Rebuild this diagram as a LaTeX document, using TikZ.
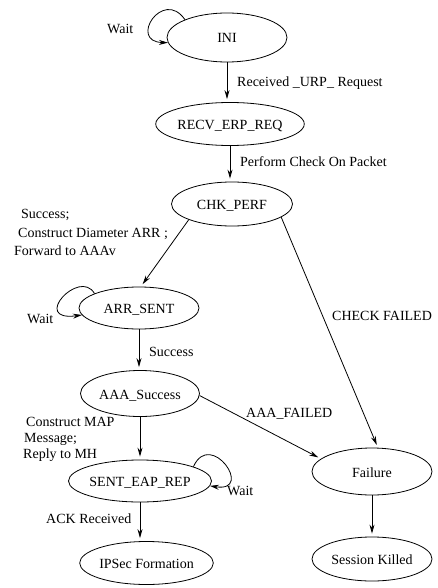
\documentclass[tikz,border=0pt]{standalone}
\usepackage{fontspec}
\setmainfont{Liberation Serif}
\usetikzlibrary{shapes.geometric, arrows.meta}

\begin{document}
\begin{tikzpicture}[x=1pt, y=-1pt,
  txt/.style={font=\fontsize{14}{16}\selectfont},
  state/.style={txt, draw, ellipse, line width=0.8pt, inner sep=0pt,
                text height=11pt, text depth=0pt},
  edge/.style={line width=0.8pt, -{Stealth[length=9pt, width=5pt, inset=3pt]}},
  straight/.style={edge, shorten >=3pt},
  lbl/.style={txt, inner sep=0pt, anchor=base west}]
\useasboundingbox (0,0) rectangle (437,588);

% states
\node[state, minimum width=120pt, minimum height=49pt] (ini)   at (227,37.5) {INI};
\node[state, minimum width=118pt, minimum height=43pt] (recv)  at (230,124)  {RECV\_ERP\_REQ};
\node[state, minimum width=121pt, minimum height=44pt] (chk)   at (232,204)  {CHK\_PERF};
\node[state, minimum width=120pt, minimum height=42pt] (arr)   at (139,308)  {ARR\_SENT};
\node[state, minimum width=119pt, minimum height=46pt] (aaa)   at (140,393.5){AAA\_Success};
\node[state, minimum width=120pt, minimum height=42pt] (sent)  at (140,481)  {SENT\_EAP\_REP};
\node[state, minimum width=121pt, minimum height=43pt] (ipsec) at (146.5,563){IPSec Formation};
\node[state, minimum width=120pt, minimum height=47pt] (fail)  at (372,471.5){Failure};
\node[state, minimum width=120pt, minimum height=44pt] (kill)  at (372,559)  {Session Killed};

% transitions
\draw[straight] (ini.south)  -- (ini.south |- recv.north);
\draw[straight] (recv.south) -- (recv.south |- chk.north);
\draw[straight] (chk.200)    -- (arr.85);
\draw[straight] (chk.345)    -- (fail.76);
\draw[straight] (arr.south)  -- (arr.south |- aaa.north);
\draw[straight] (aaa.358)    -- (fail.166);
\draw[straight] (aaa.south)  -- (aaa.south |- sent.north);
\draw[straight] (sent.south) -- (sent.south |- ipsec.north);
\draw[straight] (fail.south) -- (fail.south |- kill.north);

% waiting loops
\draw[edge] (ini.157)  .. controls +(-22,-32) and +(-40,-1) .. (ini.185);
\draw[edge] (arr.162)  .. controls +(-15,-26) and +(-52,7)  .. (arr.187);
\draw[edge] (sent.15)  .. controls +(17,-38)  and +(45,7)   .. (sent.356);

% transition labels
\node[lbl] (lwait1) at (107,34)  {Wait};
\node[lbl] (lrecv)  at (237,87)  {Received \_URP\_ Request};
\node[lbl] (lperf)  at (240,166) {Perform Check On Packet};
\node[lbl] (lsuc1)  at (21,218)  {Success;};
\node[lbl] (lsuc2)  at (18,237)  {Construct Diameter ARR ;};
\node[lbl] (lsuc3)  at (14,255)  {Forward to AAAv};
\node[lbl] (lchk)   at (332,320) {CHECK FAILED};
\node[lbl] (lwait2) at (27,323)  {Wait};
\node[lbl] (lsuc)   at (149,356) {Success};
\node[lbl] (laaaf)  at (246,417) {AAA\_FAILED};
\node[lbl] (lmap1)  at (26,426)  {Construct MAP};
\node[lbl] (lmap2)  at (24,442)  {Message;};
\node[lbl] (lmap3)  at (23,458)  {Reply to MH};
\node[lbl] (lwait3) at (227,495) {Wait};
\node[lbl] (lack)   at (46,523)  {ACK Received};
\end{tikzpicture}
\end{document}
